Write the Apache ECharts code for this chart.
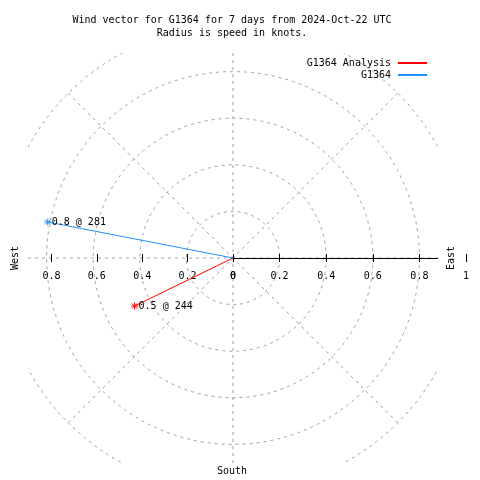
<!DOCTYPE html>
<html><head><meta charset="utf-8">
<script src="https://cdn.jsdelivr.net/npm/echarts@6/dist/echarts.min.js"></script>
<style>html,body{margin:0;padding:0;background:#fff}#c{width:480px;height:480px}</style>
</head><body><div id="c"></div>
<script>
// ---- data ----
const seriesNames = ['G1364 Analysis', 'G1364'];
const speeds = [0.47, 0.81];      // knots (radius)
const directions = [244, 281];    // degrees (compass)
const seriesColors = ['#ff0000', '#1e90ff'];
const radiusMax = 1;
const radiusStep = 0.2;
const angleStep = 45;
const titleLines = ['Wind vector for G1364 for 7 days from 2024-Oct-22 UTC', 'Radius is speed in knots.'];
const sideLabels = { west: 'West', east: 'East', south: 'South' };

// ---- layout ----
const FONT = 'DejaVu Sans Mono';
const CX = 233, CY = 258, R = 233;
const CLIP = { l: 28, t: 53, r: 438, b: 463 };
const GRID = '#a0a0a0';
const dash = { color: GRID, type: [3, 4], width: 1 };
const fmtAbs = v => String(parseFloat(Math.abs(v).toFixed(1)));

const star = 'path://M0,4 L8,4 M4,0 L4,8 M1.2,1.2 L6.8,6.8 M6.8,1.2 L1.2,6.8';

const chart = echarts.init(document.getElementById('c'), null, { renderer: 'canvas' });

function xAx(o) {
  return Object.assign({
    type: 'value', position: 'bottom', interval: radiusStep,
    axisLine: { show: false }, splitLine: { show: false },
    axisTick: { show: false, length: 4, lineStyle: { color: '#000', width: 1 } },
    axisLabel: { show: false }
  }, o);
}
const tickStyle = { color: '#000', width: 1 };
const labelCfg = {
  show: true, interval: 0, margin: 13, showMinLabel: true, showMaxLabel: true,
  formatter: fmtAbs, fontFamily: FONT, fontSize: 10, color: '#000'
};

const series = seriesNames.map((name, i) => ({
  name, type: 'line', coordinateSystem: 'polar',
  symbol: star, symbolSize: 7, showAllSymbol: true,
  itemStyle: { color: 'none', borderColor: seriesColors[i], borderWidth: 1 },
  lineStyle: { color: seriesColors[i], width: 1 },
  z: 3,
  data: [
    { value: [0, directions[i]], symbol: 'none' },
    { value: [speeds[i], directions[i]],
      label: { show: true, position: 'right', distance: -2,
        formatter: speeds[i].toFixed(1) + ' @ ' + directions[i],
        fontFamily: FONT, fontSize: 10, color: '#000' } }
  ]
}));

const white = { fill: '#fff' };
const tfont = '10px ' + FONT;
const graphics = [
  { type: 'rect', z: 2, silent: true, shape: { x: 0, y: 0, width: 480, height: CLIP.t }, style: white },
  { type: 'rect', z: 2, silent: true, shape: { x: 0, y: CLIP.b, width: 480, height: 480 - CLIP.b }, style: white },
  { type: 'rect', z: 2, silent: true, shape: { x: 0, y: 0, width: CLIP.l, height: 480 }, style: white },
  { type: 'rect', z: 2, silent: true, shape: { x: CLIP.r, y: 0, width: 480 - CLIP.r, height: 480 }, style: white },
  { type: 'text', z: 10, x: 232, y: 20, style: { text: titleLines[0], align: 'center', verticalAlign: 'middle', font: tfont, fill: '#000' } },
  { type: 'text', z: 10, x: 232, y: 33, style: { text: titleLines[1], align: 'center', verticalAlign: 'middle', font: tfont, fill: '#000' } },
  { type: 'text', z: 10, x: 15, y: 258, rotation: Math.PI / 2, style: { text: sideLabels.west, align: 'center', verticalAlign: 'middle', font: tfont, fill: '#000' } },
  { type: 'text', z: 10, x: 451, y: 258, rotation: Math.PI / 2, style: { text: sideLabels.east, align: 'center', verticalAlign: 'middle', font: tfont, fill: '#000' } },
  { type: 'text', z: 10, x: 232, y: 471, style: { text: sideLabels.south, align: 'center', verticalAlign: 'middle', font: tfont, fill: '#000' } }
];

chart.setOption({
  animation: false,
  backgroundColor: '#fff',
  polar: { center: [CX, CY], radius: R },
  angleAxis: {
    type: 'value', min: 0, max: 360, interval: angleStep, startAngle: 90, clockwise: true, z: 0,
    axisLine: { show: false }, axisTick: { show: false }, axisLabel: { show: false },
    splitLine: { show: true, lineStyle: dash }, splitArea: { show: false }
  },
  radiusAxis: {
    type: 'value', min: 0, max: radiusMax, interval: radiusStep, z: 0,
    axisLine: { show: false }, axisTick: { show: false }, axisLabel: { show: false },
    splitLine: { show: true, lineStyle: dash }, splitArea: { show: false }
  },
  grid: [
    { left: 0, width: CX, top: CY - 100, height: 100 },
    { left: CX, width: R, top: CY - 100, height: 100 }
  ],
  xAxis: [
    xAx({ gridIndex: 0, min: -radiusMax, max: 0, z: 1, axisTick: { show: true, inside: false, length: 4, lineStyle: tickStyle }, axisLabel: labelCfg }),
    xAx({ gridIndex: 0, min: -radiusMax, max: 0, z: 1, axisTick: { show: true, inside: true, length: 4, lineStyle: tickStyle } }),
    xAx({ gridIndex: 1, min: 0, max: radiusMax, z: 1, axisLine: { show: true, lineStyle: { color: '#000', width: 1 } } }),
    xAx({ gridIndex: 1, min: 0, max: radiusMax, z: 5, axisTick: { show: true, inside: false, length: 4, lineStyle: tickStyle }, axisLabel: labelCfg }),
    xAx({ gridIndex: 1, min: 0, max: radiusMax, z: 5, axisTick: { show: true, inside: true, length: 4, lineStyle: tickStyle } })
  ],
  yAxis: [
    { gridIndex: 0, type: 'value', show: false },
    { gridIndex: 1, type: 'value', show: false }
  ],
  legend: {
    orient: 'vertical', right: 53, top: 57, align: 'right', padding: 0,
    itemWidth: 29, itemHeight: 12, itemGap: 0, selectedMode: false,
    icon: 'path://M0,5 L29,5 L29,7 L0,7 Z',
    itemStyle: { borderWidth: 0 },
    lineStyle: { width: 0 },
    textStyle: { fontFamily: FONT, fontSize: 10, color: '#000', lineHeight: 12, padding: [0, 2, 0, 0] },
    data: seriesNames.map((n, i) => ({ name: n, itemStyle: { color: seriesColors[i], borderWidth: 0 } }))
  },
  graphic: graphics,
  series
});
</script></body></html>
